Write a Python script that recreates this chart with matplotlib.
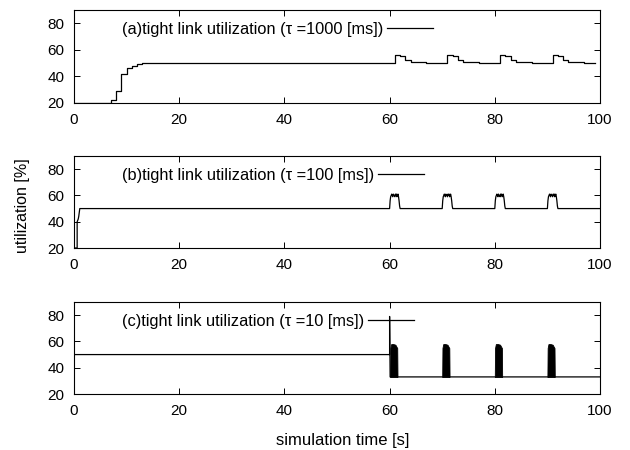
import numpy as np
import matplotlib
matplotlib.use("Agg")
import matplotlib.pyplot as plt

plt.rcParams['font.family'] = ['Liberation Sans', 'DejaVu Sans']
plt.rcParams['font.size'] = 11

# (a) tau = 1000 ms : 1 s steps (steps-post)
a_time = [0, 7, 8, 9, 10, 11, 12, 13,
          61, 62, 63, 64, 65, 66, 67,
          71, 72, 73, 74, 75, 76, 77,
          81, 82, 83, 84, 85, 86, 87,
          91, 92, 93, 94, 95, 96, 97, 99]
a_util = [20, 22, 29, 42, 46, 48, 49, 50,
          56, 55, 52, 51, 51, 50.5, 50,
          56, 55, 52, 51, 51, 50.5, 50,
          56, 55, 52, 51, 51, 50.5, 50,
          56, 55, 52, 51, 51, 50.5, 50, 50]

# (b) tau = 100 ms : start-up and the bursts (0.1 s samples)
b_start_time = [0, 0.6, 0.6, 0.7, 0.8, 0.9, 1.0, 1.1]
b_start_util = [20, 20, 40, 41, 42, 44, 47, 50]
b_burst_start = [60.0, 70.0, 80.0, 90.0]
b_burst_dt = [0.0, 0.1, 0.2, 0.3, 0.4, 0.5, 0.6, 0.7, 0.8, 0.9,
              1.0, 1.1, 1.2, 1.3, 1.4, 1.5, 1.6, 1.7, 1.8, 1.9, 2.0]
b_burst_util = [50, 56, 59, 60, 61, 60, 59, 61, 60, 60,
                59, 61, 60, 61, 59, 60, 61, 59, 56, 52, 50]

# (c) tau = 10 ms : flat, spike at 60 s, then oscillating bursts
c_time = [0, 0, 60, 60, 60.1, 100]
c_util = [20, 50, 50, 79, 33, 33]
c_burst_start = [60.1, 70.0, 80.0, 90.0]
c_burst_dt = [0.0, 0.05, 0.2, 0.6, 1.0, 1.2, 1.35, 1.4]
c_burst_top = [33, 55, 58, 58, 57.5, 56, 55, 33]
c_base = 33

titles = ["(a)tight link utilization (\u03c4 =1000 [ms])",
          "(b)tight link utilization (\u03c4 =100 [ms])",
          "(c)tight link utilization (\u03c4 =10 [ms])"]

fig = plt.figure(figsize=(6.3, 4.5), dpi=100)
left, width = 74 / 630, 526 / 630
bottoms = [1 - 103 / 450, 1 - 248 / 450, 1 - 394 / 450]
heights = [93 / 450, 92 / 450, 92 / 450]
axes = [fig.add_axes([left, b, width, h]) for b, h in zip(bottoms, heights)]

lw = 0.9
ax = axes[0]
ax.plot(a_time, a_util, color='black', lw=lw, drawstyle='steps-post', label=titles[0])

ax = axes[1]
bt = list(b_start_time)
bu = list(b_start_util)
for s in b_burst_start:
    bt += [s + d for d in b_burst_dt]
    bu += b_burst_util
bt.append(100)
bu.append(50)
ax.plot(bt, bu, color='black', lw=lw, label=titles[1])

ax = axes[2]
ax.plot(c_time, c_util, color='black', lw=lw, label=titles[2])
for s in c_burst_start:
    t = [s + d for d in c_burst_dt]
    ax.fill_between(t, c_base, c_burst_top, color='black', lw=0.6, edgecolor='black')

for ax in axes:
    ax.set_xlim(0, 100)
    ax.set_ylim(20, 90)
    ax.set_xticks([0, 20, 40, 60, 80, 100])
    ax.set_yticks([20, 40, 60, 80])
    ax.tick_params(direction='in', length=4.3, width=0.7, top=True, right=True,
                   labelsize=11, pad=7, colors='black')
    for sp in ax.spines.values():
        sp.set_linewidth(0.8)
    ax.legend(loc='center left', bbox_to_anchor=(0.091, 0.79), markerfirst=False,
              frameon=False, borderpad=0, borderaxespad=0, handlelength=2.8,
              handletextpad=0.25, fontsize=11.8)

fig.text(23 / 630, 1 - 206 / 450, "utilization [%]", rotation=90,
         ha='center', va='center', fontsize=11.5)
fig.text(343 / 630, 1 - 440 / 450, "simulation time [s]",
         ha='center', va='center', fontsize=12)

fig.savefig("out.png", dpi=100)
